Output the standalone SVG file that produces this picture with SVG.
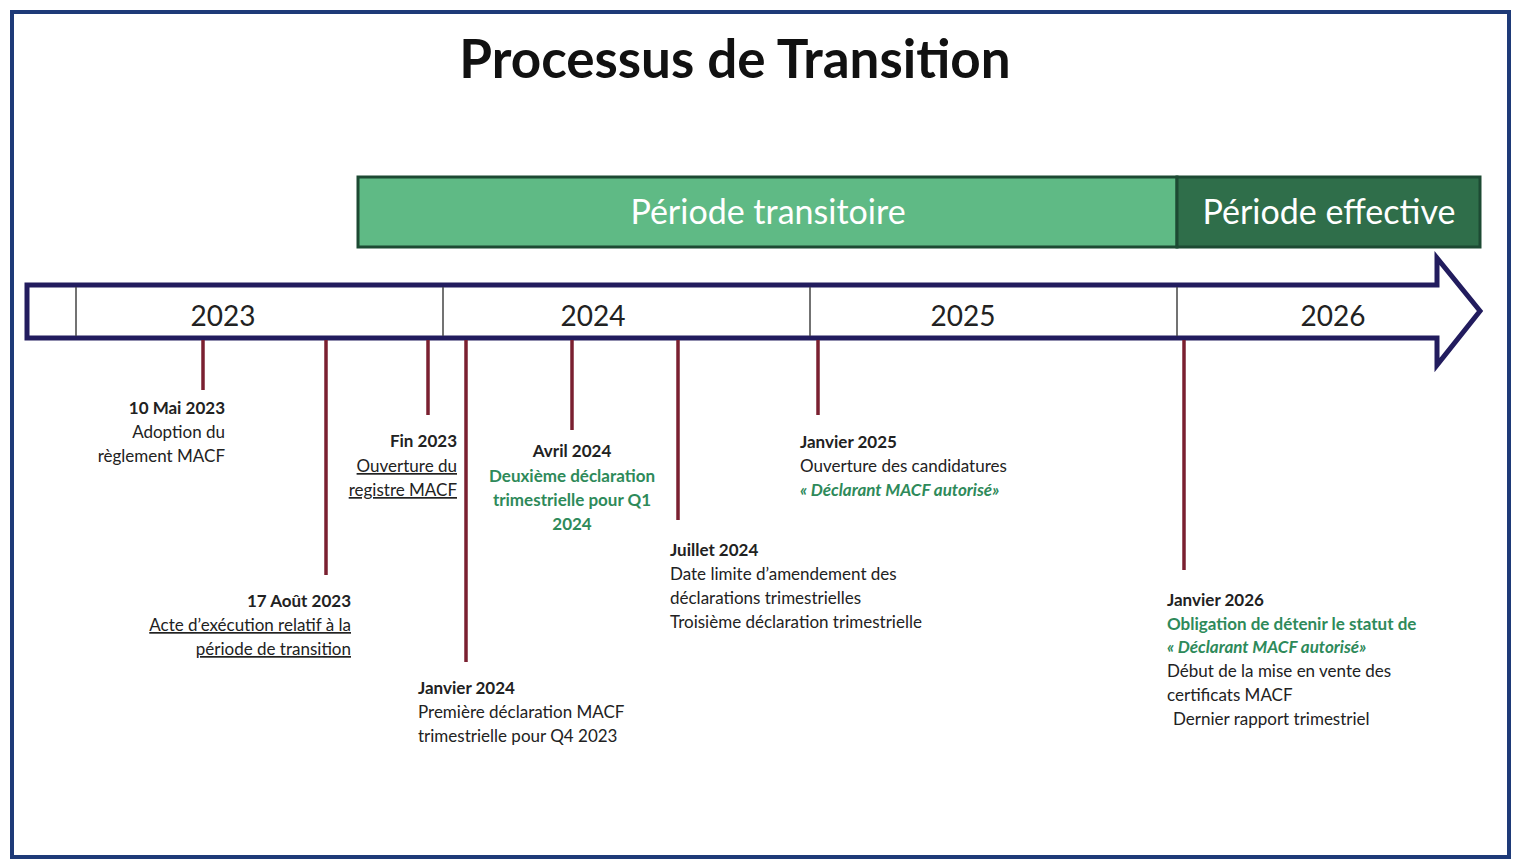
<svg xmlns="http://www.w3.org/2000/svg" width="1520" height="868" viewBox="0 0 1520 868">
<style>
text{font-family:Lato,"Liberation Sans",sans-serif;fill:#222}
.t{font-size:17px}.b{font-weight:bold}.g{fill:#2e8a5a}.i{font-style:italic;font-weight:bold}
.y{font-size:28px;text-anchor:middle}
.tick{stroke:#7a2030;stroke-width:3.5}
.u{text-decoration:underline}
</style>
<rect x="12" y="12" width="1497" height="845" fill="#fff" stroke="#1e3a78" stroke-width="4"/>
<text x="735" y="78" text-anchor="middle" font-size="53" font-weight="bold" style="fill:#111">Processus de Transition</text>
<g id="periodes">
<rect x="358" y="177" width="819" height="70" fill="#5fba85" stroke="#1d4a33" stroke-width="3"/>
<rect x="1177" y="177" width="303" height="70" fill="#2f6e4a" stroke="#1d4a33" stroke-width="3"/>
<text x="768" y="224" text-anchor="middle" font-size="34" style="fill:#fff">Période transitoire</text>
<text x="1329" y="224" text-anchor="middle" font-size="34" style="fill:#fff">Période effective</text>
</g>
<g id="timeline">
<path d="M27 285 H1437 V258 L1480 311 L1437 365 V338 H27 Z" fill="#fff" stroke="#221c5e" stroke-width="5" stroke-linejoin="miter"/>
<g stroke="#444" stroke-width="1.5"><line x1="76" y1="287" x2="76" y2="336"/><line x1="443" y1="287" x2="443" y2="336"/><line x1="810" y1="287" x2="810" y2="336"/><line x1="1177" y1="287" x2="1177" y2="336"/></g>
<text class="y" x="223" y="326">2023</text><text class="y" x="593" y="326">2024</text><text class="y" x="963" y="326">2025</text><text class="y" x="1333" y="326">2026</text>
</g>
<g id="connectors">
<line class="tick" x1="203" y1="340" x2="203" y2="390"/>
<line class="tick" x1="326" y1="340" x2="326" y2="575"/>
<line class="tick" x1="428" y1="340" x2="428" y2="415"/>
<line class="tick" x1="466" y1="340" x2="466" y2="662"/>
<line class="tick" x1="572" y1="340" x2="572" y2="430"/>
<line class="tick" x1="678" y1="340" x2="678" y2="520"/>
<line class="tick" x1="818" y1="340" x2="818" y2="415"/>
<line class="tick" x1="1184" y1="340" x2="1184" y2="570"/>
</g>
<g id="e1" class="t" text-anchor="end"><text x="225" y="414" class="b">10 Mai 2023</text><text x="225" y="438">Adoption du</text><text x="225" y="462">règlement MACF</text></g>
<g id="e2" class="t" text-anchor="end"><text x="351" y="607" class="b">17 Août 2023</text><text x="351" y="631" class="u">Acte d’exécution relatif à la</text><text x="351" y="655" class="u">période de transition</text></g>
<g id="e3" class="t" text-anchor="end"><text x="457" y="447" class="b">Fin 2023</text><text x="457" y="472" class="u">Ouverture du</text><text x="457" y="496" class="u">registre MACF</text></g>
<g id="e4" class="t"><text x="418" y="694" class="b">Janvier 2024</text><text x="418" y="718">Première déclaration MACF</text><text x="418" y="742">trimestrielle pour Q4 2023</text></g>
<g id="e5" class="t" text-anchor="middle"><text x="572" y="457" class="b">Avril 2024</text><text x="572" y="482" class="b g">Deuxième déclaration</text><text x="572" y="506" class="b g">trimestrielle pour Q1</text><text x="572" y="530" class="b g">2024</text></g>
<g id="e6" class="t"><text x="670" y="556" class="b">Juillet 2024</text><text x="670" y="580">Date limite d’amendement des</text><text x="670" y="604">déclarations trimestrielles</text><text x="670" y="628">Troisième déclaration trimestrielle</text></g>
<g id="e7" class="t"><text x="800" y="448" class="b">Janvier 2025</text><text x="800" y="472">Ouverture des candidatures</text><text x="800" y="496" class="g i">« Déclarant MACF autorisé»</text></g>
<g id="e8" class="t"><text x="1167" y="606" class="b">Janvier 2026</text><text x="1167" y="630" class="b g">Obligation de détenir le statut de</text><text x="1167" y="653" class="g i">« Déclarant MACF autorisé»</text><text x="1167" y="677">Début de la mise en vente des</text><text x="1167" y="701">certificats MACF</text><text x="1173" y="725">Dernier rapport trimestriel</text></g>
</svg>
